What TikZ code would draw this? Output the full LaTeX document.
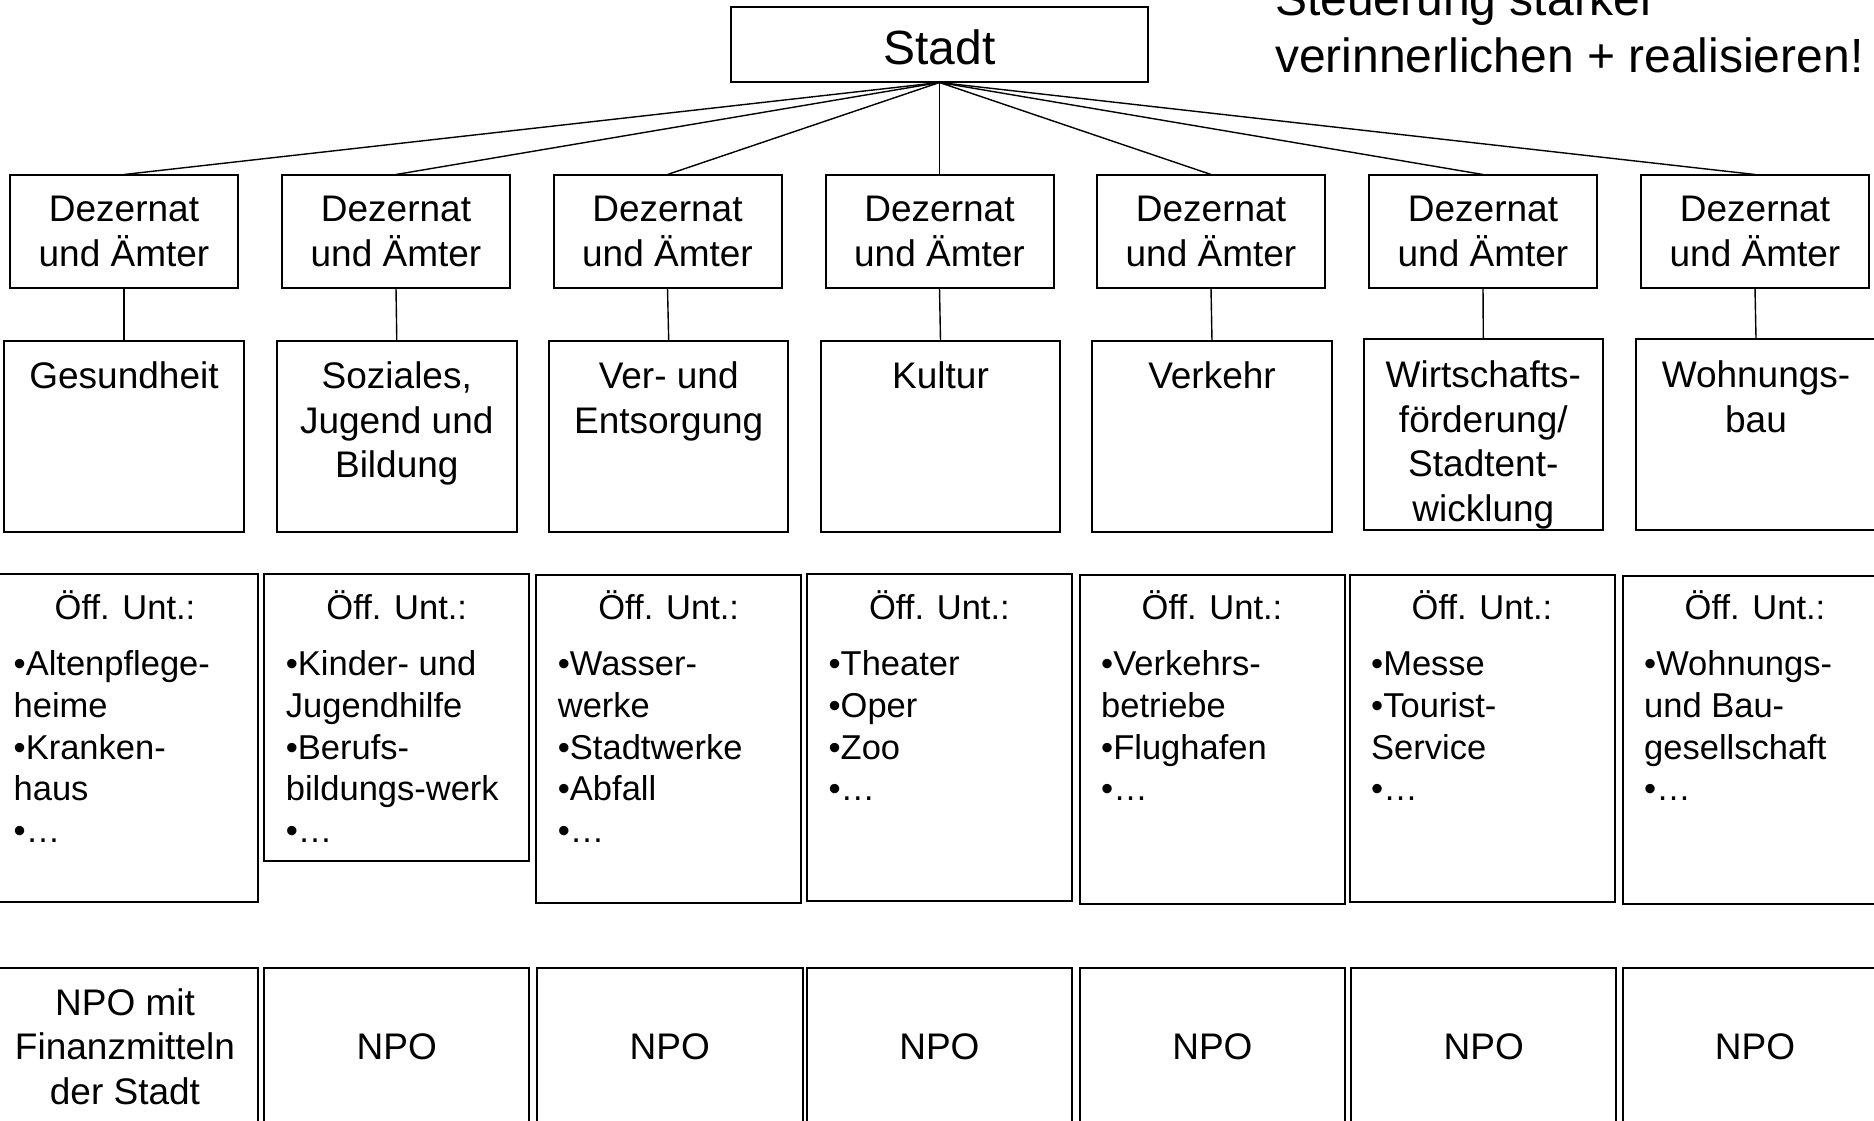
\documentclass[tikz,border=0pt]{standalone}
\usepackage{fontspec}
\setmainfont{Liberation Sans}
\newcommand\midstrut{\rule{0pt}{31.15pt}}
\newcommand\smlstrut{\rule{0pt}{29.26pt}}
\tikzset{
  box/.style={draw, line width=2pt, inner sep=0pt, outer sep=0pt},
  conn/.style={line width=1.4pt},
  big/.style={font=\fontsize{48}{57.6}\selectfont},
  mid/.style={font=\fontsize{37}{44.5}\selectfont},
  sml/.style={font=\fontsize{34.5}{41.8}\selectfont},
  dezbox/.style={box, mid, align=center, minimum width=228pt, minimum height=113.5pt},
  catbox/.style={box, minimum width=239.4pt, minimum height=191pt},
  untbox/.style={box, minimum width=265pt},
  npobox/.style={box, mid, align=center, minimum width=265pt, minimum height=157.3pt},
  ctext/.style={mid, inner sep=0pt, align=center, anchor=north},
  htext/.style={sml, inner sep=0pt, anchor=base},
  ltext/.style={sml, inner sep=0pt, align=left, anchor=north west},
}
\begin{document}
\begin{tikzpicture}[x=1pt,y=-1pt]
\useasboundingbox (0,0) rectangle (1874,1121);
\clip (0,0) rectangle (1874,1121);

% top
\node[box, big, minimum width=417pt, minimum height=75.5pt, text height=40pt, text depth=0pt] (s) at (939.5,44.75) {Stadt};
\node[big, inner sep=0pt, align=left, anchor=north west] (note) at (1275,-25.5)
  {\strut Steuerung stärker\\verinnerlichen + realisieren!};

% Dezernat row
\node[dezbox] (d1) at (124,231.25) {Dezernat\\und Ämter};
\node[dezbox] (d2) at (396,231.25) {Dezernat\\und Ämter};
\node[dezbox] (d3) at (667.5,231.25) {Dezernat\\und Ämter};
\node[dezbox] (d4) at (939.5,231.25) {Dezernat\\und Ämter};
\node[dezbox] (d5) at (1211,231.25) {Dezernat\\und Ämter};
\node[dezbox] (d6) at (1483,231.25) {Dezernat\\und Ämter};
\node[dezbox] (d7) at (1755,231.25) {Dezernat\\und Ämter};

% category row
\node[catbox] (c1) at (124,436.2) {};
\node[catbox] (c2) at (396.8,436.2) {};
\node[catbox] (c3) at (668.7,436.2) {};
\node[catbox] (c4) at (940.5,436.2) {};
\node[catbox] (c5) at (1212,436.2) {};
\node[catbox] (c6) at (1483.3,434) {};
\node[catbox] (c7) at (1756,434) {};
\node[ctext] (t1) at (124,357.2) {\midstrut Gesundheit};
\node[ctext] (t2) at (396.8,357.2) {\midstrut Soziales,\\Jugend und\\Bildung};
\node[ctext] (t3) at (668.7,357.2) {\midstrut Ver- und\\Entsorgung};
\node[ctext] (t4) at (940.5,357.2) {\midstrut Kultur};
\node[ctext] (t5) at (1212,357.2) {\midstrut Verkehr};
\node[ctext] (t6) at (1483.3,356.2) {\midstrut Wirtschafts-\\förderung/\\Stadtent-\\wicklung};
\node[ctext] (t7) at (1756,356.2) {\midstrut Wohnungs-\\bau};

% connectors
\foreach \i in {1,...,7}{
  \draw[conn] (s.south) -- (d\i.north);
  \draw[conn] (d\i.south) -- (c\i.north);
}

% public enterprises row
\node[untbox, minimum width=266pt, minimum height=328.6pt] (u1) at (125,738) {};
\node[untbox, minimum height=287pt] (u2) at (396.75,717.2) {};
\node[untbox, minimum height=327.6pt] (u3) at (668.7,738.7) {};
\node[untbox, minimum height=327.6pt] (u4) at (939.4,737.5) {};
\node[untbox, minimum height=328.6pt] (u5) at (1212,739.3) {};
\node[untbox, minimum height=327.4pt] (u6) at (1482,738.7) {};
\node[untbox, minimum height=327.6pt] (u7) at (1755,739.8) {};

\node[htext] (h1) at (125,619.4) {Öff. Unt.:};
\node[htext] (h2) at (396.75,619.4) {Öff. Unt.:};
\node[htext] (h3) at (668.7,619.4) {Öff. Unt.:};
\node[htext] (h4) at (939.4,619.4) {Öff. Unt.:};
\node[htext] (h5) at (1212,619.4) {Öff. Unt.:};
\node[htext] (h6) at (1482,619.4) {Öff. Unt.:};
\node[htext] (h7) at (1755,619.4) {Öff. Unt.:};

\node[ltext] (l1) at (13.5,646.1) {\smlstrut •Altenpflege-\\heime\\•Kranken-\\haus\\•…};
\node[ltext] (l2) at (285.7,646.1) {\smlstrut •Kinder- und\\Jugendhilfe\\•Berufs-\\bildungs-werk\\•…};
\node[ltext] (l3) at (557.7,646.1) {\smlstrut •Wasser-\\werke\\•Stadtwerke\\•Abfall\\•…};
\node[ltext] (l4) at (828.4,646.1) {\smlstrut •Theater\\•Oper\\•Zoo\\•…};
\node[ltext] (l5) at (1101,646.1) {\smlstrut •Verkehrs-\\betriebe\\•Flughafen\\•…};
\node[ltext] (l6) at (1371,646.1) {\smlstrut •Messe\\•Tourist-\\Service\\•…};
\node[ltext] (l7) at (1644,646.1) {\smlstrut •Wohnungs-\\und Bau-\\gesellschaft\\•…};

% NPO row
\node[npobox, minimum width=266pt] (n1) at (125,1046.35) {NPO mit\\Finanzmitteln\\der Stadt};
\node[npobox] (n2) at (396.75,1046.35) {NPO};
\node[npobox, minimum width=266.4pt] (n3) at (669.8,1046.35) {NPO};
\node[npobox] (n4) at (939.4,1046.35) {NPO};
\node[npobox] (n5) at (1212.4,1046.35) {NPO};
\node[npobox] (n6) at (1483.8,1046.35) {NPO};
\node[npobox] (n7) at (1755,1046.35) {NPO};
\end{tikzpicture}
\end{document}
